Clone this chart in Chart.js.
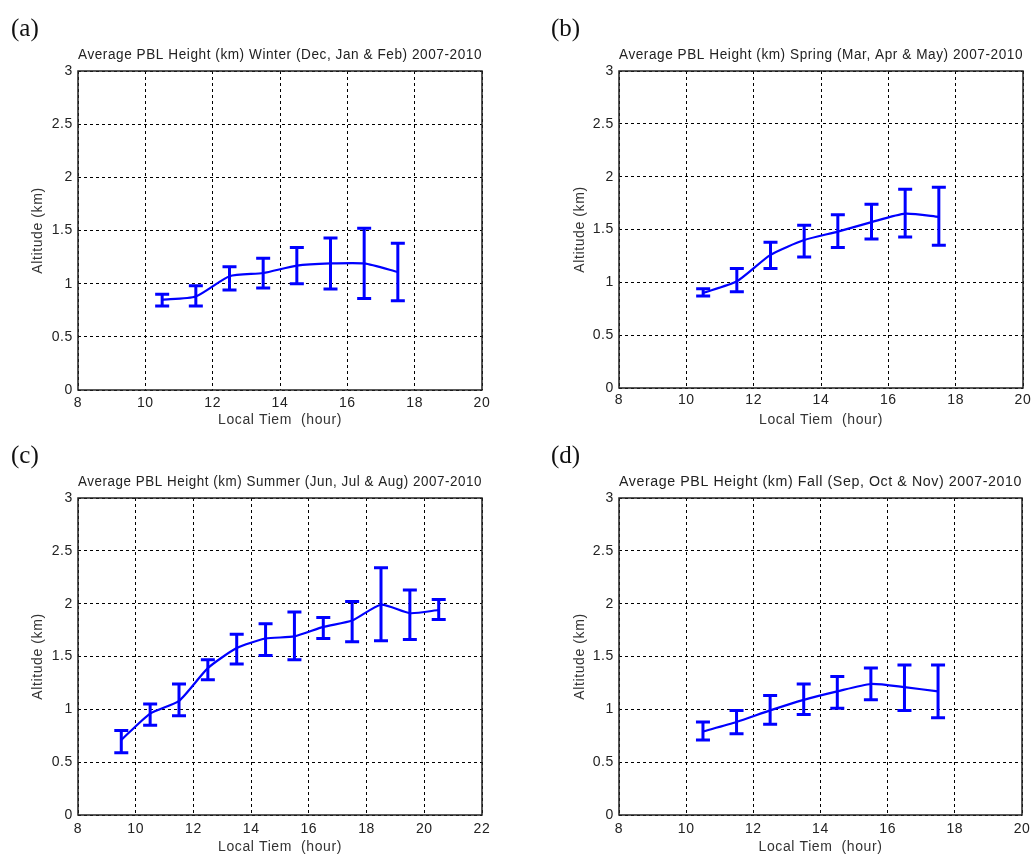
<!DOCTYPE html>
<html>
<head>
<meta charset="utf-8">
<script src="https://cdn.jsdelivr.net/npm/chart.js@4/dist/chart.umd.min.js"></script>
<style>
  html, body { margin: 0; padding: 0; background: #fff; }
  #wrap { position: relative; width: 1036px; height: 854px; background: #fff; overflow: hidden; }
  canvas { position: absolute; }
  .lbl { position: absolute; font-family: "Liberation Serif", serif; font-size: 25px; line-height: 25px; color: #111; }
</style>
</head>
<body>
<div id="wrap">
  <canvas id="ca" width="518" height="427" style="left:0;top:0"></canvas>
  <canvas id="cb" width="518" height="427" style="left:518px;top:0"></canvas>
  <canvas id="cc" width="518" height="427" style="left:0;top:427px"></canvas>
  <canvas id="cd" width="518" height="427" style="left:518px;top:427px"></canvas>
  <div class="lbl" style="left:11px;top:15px">(a)</div>
  <div class="lbl" style="left:551px;top:15px">(b)</div>
  <div class="lbl" style="left:11px;top:442px">(c)</div>
  <div class="lbl" style="left:551px;top:442px">(d)</div>
</div>
<script>
// ---- data ----
const hoursA = [10.5, 11.5, 12.5, 13.5, 14.5, 15.5, 16.5, 17.5];
const meanA  = [0.85, 0.88, 1.07, 1.10, 1.17, 1.19, 1.19, 1.11];
const lowA   = [0.79, 0.79, 0.94, 0.96, 1.00, 0.95, 0.86, 0.84];
const highA  = [0.90, 0.98, 1.16, 1.24, 1.34, 1.43, 1.52, 1.38];

const hoursB = [10.5, 11.5, 12.5, 13.5, 14.5, 15.5, 16.5, 17.5];
const meanB  = [0.90, 1.01, 1.26, 1.40, 1.48, 1.57, 1.65, 1.62];
const lowB   = [0.87, 0.91, 1.13, 1.24, 1.33, 1.41, 1.43, 1.35];
const highB  = [0.94, 1.13, 1.38, 1.54, 1.64, 1.74, 1.88, 1.90];

const hoursC = [9.5, 10.5, 11.5, 12.5, 13.5, 14.5, 15.5, 16.5, 17.5, 18.5, 19.5, 20.5];
const meanC  = [0.71, 0.96, 1.08, 1.39, 1.58, 1.67, 1.69, 1.78, 1.84, 1.99, 1.91, 1.94];
const lowC   = [0.59, 0.85, 0.94, 1.28, 1.43, 1.51, 1.47, 1.67, 1.64, 1.65, 1.66, 1.85];
const highC  = [0.80, 1.05, 1.24, 1.47, 1.71, 1.81, 1.92, 1.87, 2.02, 2.34, 2.13, 2.04];

const hoursD = [10.5, 11.5, 12.5, 13.5, 14.5, 15.5, 16.5, 17.5];
const meanD  = [0.79, 0.88, 0.99, 1.09, 1.17, 1.24, 1.21, 1.17];
const lowD   = [0.71, 0.77, 0.86, 0.95, 1.01, 1.09, 0.99, 0.92];
const highD  = [0.88, 0.99, 1.13, 1.24, 1.31, 1.39, 1.42, 1.42];

const xTicks20 = [8, 10, 12, 14, 16, 18, 20];
const xTicks22 = [8, 10, 12, 14, 16, 18, 20, 22];
const yTicks   = [0, 0.5, 1, 1.5, 2, 2.5, 3];

const titleA = 'Average PBL Height (km) Winter (Dec, Jan & Feb) 2007-2010';
const titleB = 'Average PBL Height (km) Spring (Mar, Apr & May) 2007-2010';
const titleC = 'Average PBL Height (km) Summer (Jun, Jul & Aug) 2007-2010';
const titleD = 'Average PBL Height (km) Fall (Sep, Oct & Nov) 2007-2010';
const xTitle = 'Local Tiem  (hour)';
const yTitle = 'Altitude (km)';

// ---- plugins ----
const spacingPlugin = {
  id: 'spacing',
  beforeUpdate(chart) { chart.ctx.letterSpacing = '0.6px'; },
  beforeLayout(chart) { chart.ctx.letterSpacing = '0.6px'; },
  beforeDraw(chart) { chart.ctx.letterSpacing = '0.6px'; }
};
const errorBarPlugin = {
  id: 'errorBars',
  afterDatasetsDraw(chart, args, opts) {
    const { ctx, scales: { x, y } } = chart;
    if (!opts || !opts.xs) return;
    ctx.save();
    ctx.strokeStyle = '#0000ff';
    ctx.lineWidth = 3;
    ctx.lineCap = 'butt';
    for (let i = 0; i < opts.xs.length; i++) {
      const px = x.getPixelForValue(opts.xs[i]);
      const pl = y.getPixelForValue(opts.lo[i]);
      const ph = y.getPixelForValue(opts.hi[i]);
      const w = opts.cap;
      ctx.beginPath();
      ctx.moveTo(px, pl); ctx.lineTo(px, ph);
      ctx.moveTo(px - w, pl); ctx.lineTo(px + w, pl);
      ctx.moveTo(px - w, ph); ctx.lineTo(px + w, ph);
      ctx.stroke();
    }
    ctx.restore();
  }
};
const framePlugin = {
  id: 'frame',
  afterDraw(chart) {
    const { ctx, chartArea: a } = chart;
    ctx.save();
    ctx.strokeStyle = '#222';
    ctx.lineWidth = 1.5;
    ctx.strokeRect(a.left, a.top, a.right - a.left, a.bottom - a.top);
    ctx.restore();
  }
};

function makeChart(id, hours, mean, lo, hi, title, xTickVals, leftW, rightPad, bottomY, yTitlePad, xTickPad) {
  const xmin = xTickVals[0], xmax = xTickVals[xTickVals.length - 1];
  const pts = hours.map((h, i) => ({ x: h, y: mean[i] }));
  return new Chart(document.getElementById(id), {
    type: 'line',
    data: { datasets: [{
      data: pts,
      borderColor: '#0000ff',
      borderWidth: 2.2,
      pointRadius: 0,
      tension: 0.2,
      fill: false
    }] },
    plugins: [spacingPlugin, errorBarPlugin, framePlugin],
    options: {
      responsive: false,
      animation: false,
      devicePixelRatio: 1,
      layout: { padding: { left: 0, top: 0, right: rightPad, bottom: 0 } },
      plugins: {
        legend: { display: false },
        tooltip: { enabled: false },
        title: {
          display: true,
          text: title,
          fullSize: false,
          color: '#222',
          font: { family: 'Liberation Sans', size: 14.7, weight: 'normal', lineHeight: 1.2 },
          padding: { top: 45.7, bottom: 7.66 }
        },
        errorBars: { xs: hours, lo: lo, hi: hi, cap: 7 }
      },
      scales: {
        x: {
          type: 'linear',
          min: xmin, max: xmax,
          afterBuildTicks: (s) => { s.ticks = xTickVals.map(v => ({ value: v })); },
          afterFit: (s) => { s.height = 427 - bottomY; },
          grid: { color: '#000', lineWidth: 1, drawTicks: false },
          border: { display: false, dash: [3, 3] },
          ticks: { color: '#222', padding: xTickPad, maxRotation: 0, autoSkip: false,
                   font: { family: 'Liberation Sans', size: 14 }, callback: (v) => String(v) },
          title: { display: true, text: xTitle, color: '#333',
                   font: { family: 'Liberation Sans', size: 14, lineHeight: 1 }, padding: { top: 0, bottom: 0 } }
        },
        y: {
          type: 'linear',
          min: 0, max: 3,
          afterBuildTicks: (s) => { s.ticks = yTicks.map(v => ({ value: v })); },
          afterFit: (s) => { s.width = leftW; },
          grid: { color: '#000', lineWidth: 1, drawTicks: false },
          border: { display: false, dash: [3, 3] },
          ticks: { color: '#222', padding: 5, autoSkip: false,
                   font: { family: 'Liberation Sans', size: 14 }, callback: (v) => String(v) },
          title: { display: true, text: yTitle, color: '#333',
                   font: { family: 'Liberation Sans', size: 14, lineHeight: 1 }, padding: { top: yTitlePad, bottom: 0 } }
        }
      }
    }
  });
}

makeChart('ca', hoursA, meanA, lowA, highA, titleA, xTicks20, 78, 36, 390, 31, 4.6);
makeChart('cb', hoursB, meanB, lowB, highB, titleB, xTicks20, 101, 13, 388, 55, 3.6);
makeChart('cc', hoursC, meanC, lowC, highC, titleC, xTicks22, 78, 36, 388, 31, 5.6);
makeChart('cd', hoursD, meanD, lowD, highD, titleD, xTicks20, 101, 13, 388, 55, 5.6);
</script>
</body>
</html>
